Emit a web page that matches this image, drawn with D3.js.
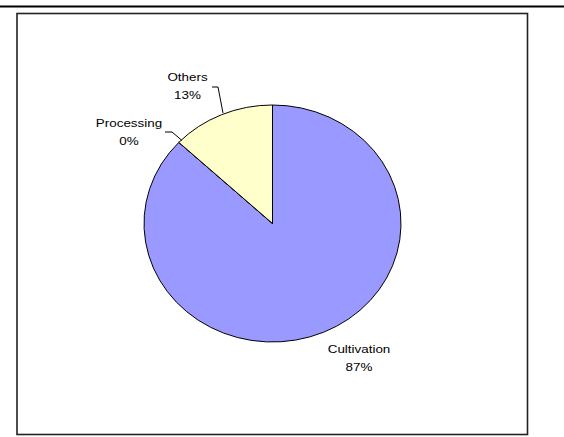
<!DOCTYPE html>
<html><head><meta charset="utf-8">
<script src="https://cdn.jsdelivr.net/npm/d3@7"></script>
<style>html,body{margin:0;padding:0;background:#fff;}svg{display:block;}</style>
</head><body>
<svg id="chart" width="564" height="437"></svg>
<script>
const categories = ["Cultivation", "Processing", "Others"];
const values = [87, 0.0001, 13];
const pctLabels = ["87%", "0%", "13%"];
const colors = ["#9999FF", "#9999FF", "#FFFFCC"];

const svg = d3.select("#chart");
const W = 564, H = 437;
const cx = 272.5, cy = 223.5, rx = 128.5, ry = 118.5;

// top rule
svg.append("line").attr("x1", 0).attr("x2", W).attr("y1", 6.5).attr("y2", 6.5)
  .attr("stroke", "#000").attr("stroke-width", 2);
// chart frame
svg.append("rect").attr("x", 17).attr("y", 13.5).attr("width", 510.5).attr("height", 421)
  .attr("fill", "#fff").attr("stroke", "#222").attr("stroke-width", 1.6);

const pie = d3.pie().sort(null).value(d => d)(values);
const arc = d3.arc().innerRadius(0).outerRadius(rx);

const g = svg.append("g").attr("transform", `translate(${cx},${cy}) scale(1,${ry/rx})`);
g.selectAll("path").data(pie).join("path")
  .attr("d", arc)
  .attr("fill", (d, i) => colors[i])
  .attr("stroke", "#000").attr("stroke-width", 1)
  .attr("vector-effect", "non-scaling-stroke")
  .attr("stroke-linejoin", "round");

// labels
const labelPos = [
  {x: 359, y: 349},
  {x: 129, y: 123},
  {x: 187.5, y: 77}
];
const sx = 1.22;
labelPos.forEach((p, i) => {
  const t = svg.append("g").attr("transform", `translate(${p.x},${p.y}) scale(${sx},1)`);
  t.append("text").attr("x", 0).attr("y", 4).attr("text-anchor", "middle")
    .attr("font-family", "Arial, 'Liberation Sans', sans-serif").attr("font-size", 11)
    .attr("fill", "#000").text(categories[i]);
  t.append("text").attr("x", 0).attr("y", 22).attr("text-anchor", "middle")
    .attr("font-family", "Arial, 'Liberation Sans', sans-serif").attr("font-size", 11)
    .attr("fill", "#000").text(pctLabels[i]);
});

// leader lines
const leaders = [
  [[165, 132], [172, 132], [182, 140.5]],
  [[212, 87], [218, 87], [223, 113]]
];
leaders.forEach(pts => {
  svg.append("path").attr("d", d3.line()(pts))
    .attr("fill", "none").attr("stroke", "#000").attr("stroke-width", 1);
});
</script>
</body></html>
